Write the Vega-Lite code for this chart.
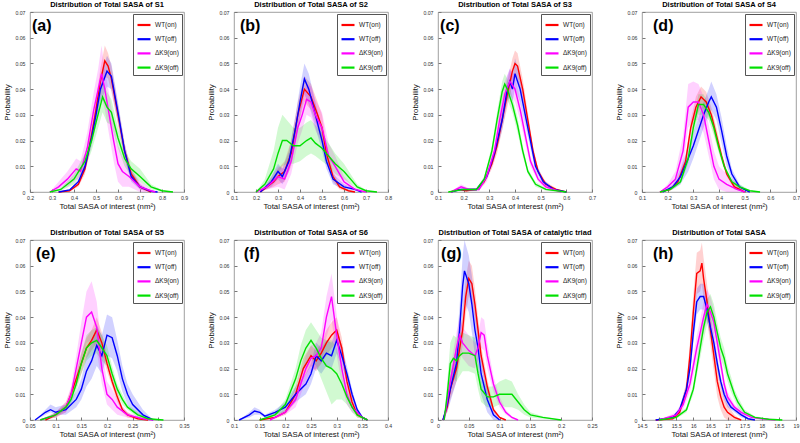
{
"$schema": "https://vega.github.io/schema/vega-lite/v6.json",
"background": "white",
"padding": {"left": 3, "top": 0, "right": 2, "bottom": 1},
"autosize": {"type": "pad"},
"bounds": "flush",
"columns": 4,
"spacing": {"row": 48, "column": 50},
"resolve": {"scale": {"x": "independent", "y": "independent", "color": "independent"}, "axis": {"x": "independent", "y": "independent"}, "legend": {"color": "independent"}},
"config": {
  "font": "Liberation Sans",
  "view": {"stroke": "#888", "strokeWidth": 0.8},
  "axis": {"grid": false, "domain": false, "tickSize": -3, "tickColor": "#777", "labelFontSize": 5.2, "labelColor": "#333", "titleFontSize": 7.8, "titleFontWeight": "normal", "titleColor": "#111", "labelFlush": false, "labelOverlap": false},
  "axisY": {"labelPadding": 8, "titlePadding": 3},
  "axisX": {"labelPadding": 6, "titlePadding": 2},
  "title": {"fontSize": 7.5, "fontWeight": "bold", "offset": 2, "color": "#000", "anchor": "middle"},
  "legend": {"orient": "top-right", "offset": 2, "title": null, "symbolType": "stroke", "symbolStrokeWidth": 2.2, "symbolSize": 169, "labelFontSize": 6.5, "labelColor": "#222", "padding": 3, "rowPadding": 1.2, "labelOffset": 3, "symbolOpacity": 1, "strokeColor": "#555", "fillColor": "#ffffff"}
},
"datasets": {
"a": [
{"s":"WT(on)","x":0.33,"y":0,"l":0,"h":0},
{"s":"WT(on)","x":0.38,"y":0.0005,"l":0.0003,"h":0.0007},
{"s":"WT(on)","x":0.42,"y":0.003,"l":0.002,"h":0.004},
{"s":"WT(on)","x":0.45,"y":0.009,"l":0.007,"h":0.011},
{"s":"WT(on)","x":0.48,"y":0.022,"l":0.019,"h":0.025},
{"s":"WT(on)","x":0.50,"y":0.032,"l":0.028,"h":0.036},
{"s":"WT(on)","x":0.52,"y":0.043,"l":0.038,"h":0.048},
{"s":"WT(on)","x":0.54,"y":0.051,"l":0.045,"h":0.057},
{"s":"WT(on)","x":0.555,"y":0.049,"l":0.044,"h":0.054},
{"s":"WT(on)","x":0.57,"y":0.044,"l":0.039,"h":0.049},
{"s":"WT(on)","x":0.60,"y":0.030,"l":0.026,"h":0.034},
{"s":"WT(on)","x":0.63,"y":0.016,"l":0.013,"h":0.019},
{"s":"WT(on)","x":0.66,"y":0.007,"l":0.005,"h":0.009},
{"s":"WT(on)","x":0.70,"y":0.002,"l":0.001,"h":0.003},
{"s":"WT(on)","x":0.75,"y":0,"l":0,"h":0},
{"s":"WT(off)","x":0.33,"y":0,"l":0,"h":0},
{"s":"WT(off)","x":0.38,"y":0.0008,"l":0.0005,"h":0.0011},
{"s":"WT(off)","x":0.42,"y":0.004,"l":0.003,"h":0.005},
{"s":"WT(off)","x":0.45,"y":0.010,"l":0.008,"h":0.012},
{"s":"WT(off)","x":0.48,"y":0.021,"l":0.018,"h":0.024},
{"s":"WT(off)","x":0.50,"y":0.030,"l":0.026,"h":0.034},
{"s":"WT(off)","x":0.52,"y":0.040,"l":0.035,"h":0.045},
{"s":"WT(off)","x":0.55,"y":0.047,"l":0.041,"h":0.053},
{"s":"WT(off)","x":0.57,"y":0.045,"l":0.040,"h":0.050},
{"s":"WT(off)","x":0.60,"y":0.031,"l":0.027,"h":0.035},
{"s":"WT(off)","x":0.63,"y":0.016,"l":0.013,"h":0.019},
{"s":"WT(off)","x":0.66,"y":0.006,"l":0.004,"h":0.008},
{"s":"WT(off)","x":0.70,"y":0.002,"l":0.001,"h":0.003},
{"s":"WT(off)","x":0.75,"y":0.0003,"l":0.0001,"h":0.0005},
{"s":"WT(off)","x":0.78,"y":0,"l":0,"h":0},
{"s":"ΔK9(on)","x":0.29,"y":0,"l":0,"h":0},
{"s":"ΔK9(on)","x":0.33,"y":0.002,"l":0.001,"h":0.004},
{"s":"ΔK9(on)","x":0.37,"y":0.005,"l":0.002,"h":0.008},
{"s":"ΔK9(on)","x":0.41,"y":0.009,"l":0.005,"h":0.013},
{"s":"ΔK9(on)","x":0.43,"y":0.008,"l":0.004,"h":0.012},
{"s":"ΔK9(on)","x":0.46,"y":0.017,"l":0.012,"h":0.023},
{"s":"ΔK9(on)","x":0.49,"y":0.032,"l":0.025,"h":0.039},
{"s":"ΔK9(on)","x":0.51,"y":0.040,"l":0.032,"h":0.048},
{"s":"ΔK9(on)","x":0.525,"y":0.046,"l":0.037,"h":0.057},
{"s":"ΔK9(on)","x":0.54,"y":0.040,"l":0.032,"h":0.048},
{"s":"ΔK9(on)","x":0.56,"y":0.030,"l":0.022,"h":0.038},
{"s":"ΔK9(on)","x":0.58,"y":0.020,"l":0.012,"h":0.028},
{"s":"ΔK9(on)","x":0.60,"y":0.011,"l":0.004,"h":0.018},
{"s":"ΔK9(on)","x":0.62,"y":0.008,"l":0.002,"h":0.014},
{"s":"ΔK9(on)","x":0.65,"y":0.006,"l":0.002,"h":0.010},
{"s":"ΔK9(on)","x":0.70,"y":0.002,"l":0,"h":0.004},
{"s":"ΔK9(on)","x":0.75,"y":0.0005,"l":0,"h":0.001},
{"s":"ΔK9(on)","x":0.77,"y":0,"l":0,"h":0},
{"s":"ΔK9(off)","x":0.29,"y":0,"l":0,"h":0},
{"s":"ΔK9(off)","x":0.34,"y":0.001,"l":0.0005,"h":0.0015},
{"s":"ΔK9(off)","x":0.40,"y":0.005,"l":0.003,"h":0.007},
{"s":"ΔK9(off)","x":0.45,"y":0.012,"l":0.009,"h":0.015},
{"s":"ΔK9(off)","x":0.48,"y":0.020,"l":0.016,"h":0.024},
{"s":"ΔK9(off)","x":0.50,"y":0.027,"l":0.022,"h":0.032},
{"s":"ΔK9(off)","x":0.53,"y":0.037,"l":0.031,"h":0.043},
{"s":"ΔK9(off)","x":0.55,"y":0.033,"l":0.027,"h":0.039},
{"s":"ΔK9(off)","x":0.57,"y":0.031,"l":0.026,"h":0.036},
{"s":"ΔK9(off)","x":0.60,"y":0.021,"l":0.017,"h":0.025},
{"s":"ΔK9(off)","x":0.63,"y":0.013,"l":0.010,"h":0.016},
{"s":"ΔK9(off)","x":0.66,"y":0.009,"l":0.006,"h":0.012},
{"s":"ΔK9(off)","x":0.70,"y":0.006,"l":0.004,"h":0.009},
{"s":"ΔK9(off)","x":0.75,"y":0.002,"l":0.001,"h":0.003},
{"s":"ΔK9(off)","x":0.80,"y":0.0005,"l":0.0002,"h":0.0008},
{"s":"ΔK9(off)","x":0.85,"y":0,"l":0,"h":0}
],
"b": [
{"s":"WT(on)","x":0.22,"y":0,"l":0,"h":0},
{"s":"WT(on)","x":0.28,"y":0.004,"l":0.002,"h":0.006},
{"s":"WT(on)","x":0.30,"y":0.006,"l":0.003,"h":0.009},
{"s":"WT(on)","x":0.33,"y":0.008,"l":0.004,"h":0.012},
{"s":"WT(on)","x":0.36,"y":0.015,"l":0.010,"h":0.020},
{"s":"WT(on)","x":0.39,"y":0.030,"l":0.025,"h":0.035},
{"s":"WT(on)","x":0.42,"y":0.040,"l":0.035,"h":0.045},
{"s":"WT(on)","x":0.45,"y":0.037,"l":0.032,"h":0.042},
{"s":"WT(on)","x":0.48,"y":0.030,"l":0.025,"h":0.035},
{"s":"WT(on)","x":0.50,"y":0.025,"l":0.020,"h":0.030},
{"s":"WT(on)","x":0.52,"y":0.015,"l":0.011,"h":0.019},
{"s":"WT(on)","x":0.55,"y":0.006,"l":0.004,"h":0.008},
{"s":"WT(on)","x":0.58,"y":0.002,"l":0.001,"h":0.003},
{"s":"WT(on)","x":0.62,"y":0.0005,"l":0.0002,"h":0.0008},
{"s":"WT(on)","x":0.65,"y":0,"l":0,"h":0},
{"s":"WT(off)","x":0.22,"y":0,"l":0,"h":0},
{"s":"WT(off)","x":0.27,"y":0.004,"l":0.002,"h":0.006},
{"s":"WT(off)","x":0.30,"y":0.008,"l":0.005,"h":0.011},
{"s":"WT(off)","x":0.32,"y":0.006,"l":0.003,"h":0.009},
{"s":"WT(off)","x":0.35,"y":0.012,"l":0.008,"h":0.016},
{"s":"WT(off)","x":0.38,"y":0.025,"l":0.020,"h":0.030},
{"s":"WT(off)","x":0.40,"y":0.035,"l":0.029,"h":0.041},
{"s":"WT(off)","x":0.42,"y":0.044,"l":0.038,"h":0.050},
{"s":"WT(off)","x":0.44,"y":0.040,"l":0.034,"h":0.046},
{"s":"WT(off)","x":0.47,"y":0.030,"l":0.025,"h":0.035},
{"s":"WT(off)","x":0.50,"y":0.020,"l":0.016,"h":0.024},
{"s":"WT(off)","x":0.52,"y":0.012,"l":0.009,"h":0.015},
{"s":"WT(off)","x":0.55,"y":0.005,"l":0.003,"h":0.007},
{"s":"WT(off)","x":0.60,"y":0.002,"l":0.001,"h":0.003},
{"s":"WT(off)","x":0.65,"y":0.001,"l":0.0005,"h":0.0015},
{"s":"WT(off)","x":0.68,"y":0,"l":0,"h":0},
{"s":"ΔK9(on)","x":0.20,"y":0,"l":0,"h":0},
{"s":"ΔK9(on)","x":0.25,"y":0.002,"l":0.001,"h":0.003},
{"s":"ΔK9(on)","x":0.30,"y":0.006,"l":0.002,"h":0.010},
{"s":"ΔK9(on)","x":0.33,"y":0.005,"l":0.001,"h":0.009},
{"s":"ΔK9(on)","x":0.36,"y":0.012,"l":0.007,"h":0.017},
{"s":"ΔK9(on)","x":0.39,"y":0.025,"l":0.019,"h":0.031},
{"s":"ΔK9(on)","x":0.41,"y":0.030,"l":0.024,"h":0.036},
{"s":"ΔK9(on)","x":0.43,"y":0.036,"l":0.030,"h":0.042},
{"s":"ΔK9(on)","x":0.45,"y":0.035,"l":0.029,"h":0.041},
{"s":"ΔK9(on)","x":0.47,"y":0.030,"l":0.024,"h":0.036},
{"s":"ΔK9(on)","x":0.50,"y":0.025,"l":0.019,"h":0.031},
{"s":"ΔK9(on)","x":0.53,"y":0.014,"l":0.009,"h":0.019},
{"s":"ΔK9(on)","x":0.56,"y":0.010,"l":0.006,"h":0.014},
{"s":"ΔK9(on)","x":0.60,"y":0.004,"l":0.002,"h":0.006},
{"s":"ΔK9(on)","x":0.65,"y":0.001,"l":0.0005,"h":0.0015},
{"s":"ΔK9(on)","x":0.70,"y":0,"l":0,"h":0},
{"s":"ΔK9(off)","x":0.20,"y":0,"l":0,"h":0},
{"s":"ΔK9(off)","x":0.24,"y":0.003,"l":0.001,"h":0.005},
{"s":"ΔK9(off)","x":0.28,"y":0.009,"l":0.004,"h":0.016},
{"s":"ΔK9(off)","x":0.30,"y":0.015,"l":0.007,"h":0.025},
{"s":"ΔK9(off)","x":0.32,"y":0.020,"l":0.010,"h":0.030},
{"s":"ΔK9(off)","x":0.34,"y":0.020,"l":0.011,"h":0.028},
{"s":"ΔK9(off)","x":0.37,"y":0.018,"l":0.011,"h":0.025},
{"s":"ΔK9(off)","x":0.40,"y":0.018,"l":0.012,"h":0.025},
{"s":"ΔK9(off)","x":0.43,"y":0.020,"l":0.014,"h":0.027},
{"s":"ΔK9(off)","x":0.45,"y":0.021,"l":0.015,"h":0.028},
{"s":"ΔK9(off)","x":0.47,"y":0.019,"l":0.014,"h":0.026},
{"s":"ΔK9(off)","x":0.50,"y":0.017,"l":0.012,"h":0.023},
{"s":"ΔK9(off)","x":0.53,"y":0.014,"l":0.010,"h":0.019},
{"s":"ΔK9(off)","x":0.56,"y":0.011,"l":0.007,"h":0.015},
{"s":"ΔK9(off)","x":0.60,"y":0.008,"l":0.005,"h":0.011},
{"s":"ΔK9(off)","x":0.63,"y":0.005,"l":0.003,"h":0.007},
{"s":"ΔK9(off)","x":0.66,"y":0.002,"l":0.001,"h":0.003},
{"s":"ΔK9(off)","x":0.70,"y":0.0005,"l":0.0002,"h":0.0008},
{"s":"ΔK9(off)","x":0.75,"y":0,"l":0,"h":0}
],
"c": [
{"s":"WT(on)","x":0.15,"y":0,"l":0,"h":0},
{"s":"WT(on)","x":0.18,"y":0.001,"l":0.0005,"h":0.0015},
{"s":"WT(on)","x":0.21,"y":0.0005,"l":0.0002,"h":0.0008},
{"s":"WT(on)","x":0.25,"y":0.001,"l":0.0005,"h":0.0015},
{"s":"WT(on)","x":0.28,"y":0.004,"l":0.003,"h":0.005},
{"s":"WT(on)","x":0.31,"y":0.011,"l":0.009,"h":0.013},
{"s":"WT(on)","x":0.33,"y":0.018,"l":0.015,"h":0.021},
{"s":"WT(on)","x":0.35,"y":0.028,"l":0.024,"h":0.032},
{"s":"WT(on)","x":0.37,"y":0.038,"l":0.033,"h":0.043},
{"s":"WT(on)","x":0.39,"y":0.047,"l":0.042,"h":0.052},
{"s":"WT(on)","x":0.40,"y":0.050,"l":0.045,"h":0.055},
{"s":"WT(on)","x":0.41,"y":0.049,"l":0.044,"h":0.054},
{"s":"WT(on)","x":0.43,"y":0.040,"l":0.036,"h":0.044},
{"s":"WT(on)","x":0.45,"y":0.028,"l":0.025,"h":0.031},
{"s":"WT(on)","x":0.47,"y":0.016,"l":0.014,"h":0.018},
{"s":"WT(on)","x":0.49,"y":0.008,"l":0.007,"h":0.009},
{"s":"WT(on)","x":0.52,"y":0.003,"l":0.002,"h":0.004},
{"s":"WT(on)","x":0.56,"y":0.001,"l":0.0005,"h":0.0015},
{"s":"WT(on)","x":0.60,"y":0,"l":0,"h":0},
{"s":"WT(off)","x":0.15,"y":0,"l":0,"h":0},
{"s":"WT(off)","x":0.19,"y":0.001,"l":0.0005,"h":0.0015},
{"s":"WT(off)","x":0.25,"y":0.001,"l":0.0005,"h":0.0015},
{"s":"WT(off)","x":0.29,"y":0.006,"l":0.005,"h":0.007},
{"s":"WT(off)","x":0.32,"y":0.015,"l":0.013,"h":0.017},
{"s":"WT(off)","x":0.35,"y":0.028,"l":0.024,"h":0.032},
{"s":"WT(off)","x":0.37,"y":0.040,"l":0.035,"h":0.045},
{"s":"WT(off)","x":0.38,"y":0.043,"l":0.038,"h":0.048},
{"s":"WT(off)","x":0.39,"y":0.040,"l":0.035,"h":0.045},
{"s":"WT(off)","x":0.40,"y":0.046,"l":0.040,"h":0.052},
{"s":"WT(off)","x":0.42,"y":0.040,"l":0.035,"h":0.045},
{"s":"WT(off)","x":0.44,"y":0.030,"l":0.026,"h":0.034},
{"s":"WT(off)","x":0.46,"y":0.020,"l":0.017,"h":0.023},
{"s":"WT(off)","x":0.48,"y":0.010,"l":0.008,"h":0.012},
{"s":"WT(off)","x":0.51,"y":0.004,"l":0.003,"h":0.005},
{"s":"WT(off)","x":0.55,"y":0.001,"l":0.0005,"h":0.0015},
{"s":"WT(off)","x":0.60,"y":0,"l":0,"h":0},
{"s":"ΔK9(on)","x":0.15,"y":0,"l":0,"h":0},
{"s":"ΔK9(on)","x":0.19,"y":0.002,"l":0.001,"h":0.003},
{"s":"ΔK9(on)","x":0.22,"y":0.001,"l":0.0005,"h":0.0015},
{"s":"ΔK9(on)","x":0.26,"y":0.001,"l":0.0005,"h":0.0015},
{"s":"ΔK9(on)","x":0.29,"y":0.006,"l":0.004,"h":0.008},
{"s":"ΔK9(on)","x":0.32,"y":0.016,"l":0.013,"h":0.019},
{"s":"ΔK9(on)","x":0.34,"y":0.028,"l":0.024,"h":0.032},
{"s":"ΔK9(on)","x":0.36,"y":0.038,"l":0.033,"h":0.043},
{"s":"ΔK9(on)","x":0.38,"y":0.043,"l":0.038,"h":0.048},
{"s":"ΔK9(on)","x":0.40,"y":0.040,"l":0.035,"h":0.045},
{"s":"ΔK9(on)","x":0.42,"y":0.032,"l":0.028,"h":0.036},
{"s":"ΔK9(on)","x":0.44,"y":0.022,"l":0.019,"h":0.025},
{"s":"ΔK9(on)","x":0.46,"y":0.012,"l":0.010,"h":0.014},
{"s":"ΔK9(on)","x":0.49,"y":0.005,"l":0.004,"h":0.006},
{"s":"ΔK9(on)","x":0.52,"y":0.002,"l":0.001,"h":0.003},
{"s":"ΔK9(on)","x":0.55,"y":0.001,"l":0.0005,"h":0.0015},
{"s":"ΔK9(on)","x":0.58,"y":0,"l":0,"h":0},
{"s":"ΔK9(off)","x":0.14,"y":0,"l":0,"h":0},
{"s":"ΔK9(off)","x":0.20,"y":0.001,"l":0.0005,"h":0.0015},
{"s":"ΔK9(off)","x":0.25,"y":0.001,"l":0.0005,"h":0.0015},
{"s":"ΔK9(off)","x":0.28,"y":0.005,"l":0.004,"h":0.006},
{"s":"ΔK9(off)","x":0.31,"y":0.016,"l":0.014,"h":0.018},
{"s":"ΔK9(off)","x":0.33,"y":0.028,"l":0.025,"h":0.031},
{"s":"ΔK9(off)","x":0.35,"y":0.039,"l":0.035,"h":0.043},
{"s":"ΔK9(off)","x":0.36,"y":0.042,"l":0.038,"h":0.046},
{"s":"ΔK9(off)","x":0.37,"y":0.040,"l":0.036,"h":0.044},
{"s":"ΔK9(off)","x":0.39,"y":0.034,"l":0.031,"h":0.037},
{"s":"ΔK9(off)","x":0.41,"y":0.026,"l":0.023,"h":0.029},
{"s":"ΔK9(off)","x":0.43,"y":0.016,"l":0.014,"h":0.018},
{"s":"ΔK9(off)","x":0.45,"y":0.008,"l":0.007,"h":0.009},
{"s":"ΔK9(off)","x":0.48,"y":0.003,"l":0.002,"h":0.004},
{"s":"ΔK9(off)","x":0.52,"y":0.001,"l":0.0005,"h":0.0015},
{"s":"ΔK9(off)","x":0.60,"y":0,"l":0,"h":0}
],
"d": [
{"s":"WT(on)","x":0.17,"y":0,"l":0,"h":0},
{"s":"WT(on)","x":0.21,"y":0.001,"l":0.0005,"h":0.0015},
{"s":"WT(on)","x":0.24,"y":0.004,"l":0.003,"h":0.005},
{"s":"WT(on)","x":0.27,"y":0.012,"l":0.010,"h":0.014},
{"s":"WT(on)","x":0.29,"y":0.025,"l":0.022,"h":0.028},
{"s":"WT(on)","x":0.31,"y":0.033,"l":0.029,"h":0.037},
{"s":"WT(on)","x":0.33,"y":0.037,"l":0.033,"h":0.041},
{"s":"WT(on)","x":0.35,"y":0.035,"l":0.031,"h":0.039},
{"s":"WT(on)","x":0.37,"y":0.030,"l":0.027,"h":0.033},
{"s":"WT(on)","x":0.39,"y":0.022,"l":0.019,"h":0.025},
{"s":"WT(on)","x":0.41,"y":0.014,"l":0.012,"h":0.016},
{"s":"WT(on)","x":0.43,"y":0.007,"l":0.006,"h":0.008},
{"s":"WT(on)","x":0.46,"y":0.002,"l":0.001,"h":0.003},
{"s":"WT(on)","x":0.50,"y":0,"l":0,"h":0},
{"s":"WT(off)","x":0.18,"y":0,"l":0,"h":0},
{"s":"WT(off)","x":0.22,"y":0.002,"l":0.001,"h":0.003},
{"s":"WT(off)","x":0.25,"y":0.006,"l":0.003,"h":0.009},
{"s":"WT(off)","x":0.28,"y":0.013,"l":0.008,"h":0.018},
{"s":"WT(off)","x":0.30,"y":0.018,"l":0.013,"h":0.023},
{"s":"WT(off)","x":0.32,"y":0.024,"l":0.019,"h":0.029},
{"s":"WT(off)","x":0.34,"y":0.030,"l":0.025,"h":0.035},
{"s":"WT(off)","x":0.36,"y":0.035,"l":0.030,"h":0.040},
{"s":"WT(off)","x":0.37,"y":0.037,"l":0.032,"h":0.043},
{"s":"WT(off)","x":0.39,"y":0.033,"l":0.028,"h":0.038},
{"s":"WT(off)","x":0.41,"y":0.024,"l":0.019,"h":0.029},
{"s":"WT(off)","x":0.43,"y":0.014,"l":0.010,"h":0.018},
{"s":"WT(off)","x":0.45,"y":0.007,"l":0.005,"h":0.009},
{"s":"WT(off)","x":0.48,"y":0.002,"l":0.001,"h":0.003},
{"s":"WT(off)","x":0.52,"y":0,"l":0,"h":0},
{"s":"ΔK9(on)","x":0.17,"y":0,"l":0,"h":0},
{"s":"ΔK9(on)","x":0.20,"y":0.002,"l":0.001,"h":0.003},
{"s":"ΔK9(on)","x":0.23,"y":0.005,"l":0.002,"h":0.008},
{"s":"ΔK9(on)","x":0.26,"y":0.016,"l":0.010,"h":0.022},
{"s":"ΔK9(on)","x":0.28,"y":0.033,"l":0.025,"h":0.042},
{"s":"ΔK9(on)","x":0.30,"y":0.035,"l":0.028,"h":0.043},
{"s":"ΔK9(on)","x":0.32,"y":0.035,"l":0.028,"h":0.042},
{"s":"ΔK9(on)","x":0.34,"y":0.030,"l":0.023,"h":0.037},
{"s":"ΔK9(on)","x":0.36,"y":0.020,"l":0.014,"h":0.026},
{"s":"ΔK9(on)","x":0.38,"y":0.010,"l":0.005,"h":0.016},
{"s":"ΔK9(on)","x":0.40,"y":0.005,"l":0.001,"h":0.010},
{"s":"ΔK9(on)","x":0.43,"y":0.003,"l":0,"h":0.007},
{"s":"ΔK9(on)","x":0.47,"y":0.001,"l":0,"h":0.003},
{"s":"ΔK9(on)","x":0.50,"y":0,"l":0,"h":0},
{"s":"ΔK9(off)","x":0.17,"y":0,"l":0,"h":0},
{"s":"ΔK9(off)","x":0.21,"y":0.001,"l":0.0005,"h":0.0015},
{"s":"ΔK9(off)","x":0.25,"y":0.004,"l":0.003,"h":0.005},
{"s":"ΔK9(off)","x":0.28,"y":0.013,"l":0.011,"h":0.015},
{"s":"ΔK9(off)","x":0.30,"y":0.025,"l":0.022,"h":0.028},
{"s":"ΔK9(off)","x":0.32,"y":0.034,"l":0.030,"h":0.038},
{"s":"ΔK9(off)","x":0.34,"y":0.034,"l":0.030,"h":0.038},
{"s":"ΔK9(off)","x":0.36,"y":0.031,"l":0.028,"h":0.034},
{"s":"ΔK9(off)","x":0.38,"y":0.025,"l":0.022,"h":0.028},
{"s":"ΔK9(off)","x":0.40,"y":0.017,"l":0.015,"h":0.019},
{"s":"ΔK9(off)","x":0.42,"y":0.010,"l":0.009,"h":0.011},
{"s":"ΔK9(off)","x":0.45,"y":0.004,"l":0.003,"h":0.005},
{"s":"ΔK9(off)","x":0.48,"y":0.002,"l":0.001,"h":0.003},
{"s":"ΔK9(off)","x":0.52,"y":0.0005,"l":0.0002,"h":0.0008},
{"s":"ΔK9(off)","x":0.56,"y":0,"l":0,"h":0}
],
"e": [
{"s":"WT(on)","x":0.08,"y":0,"l":0,"h":0},
{"s":"WT(on)","x":0.10,"y":0.002,"l":0.001,"h":0.003},
{"s":"WT(on)","x":0.12,"y":0.005,"l":0.003,"h":0.007},
{"s":"WT(on)","x":0.13,"y":0.010,"l":0.008,"h":0.012},
{"s":"WT(on)","x":0.14,"y":0.016,"l":0.013,"h":0.019},
{"s":"WT(on)","x":0.15,"y":0.022,"l":0.018,"h":0.026},
{"s":"WT(on)","x":0.16,"y":0.028,"l":0.024,"h":0.032},
{"s":"WT(on)","x":0.17,"y":0.031,"l":0.027,"h":0.035},
{"s":"WT(on)","x":0.18,"y":0.035,"l":0.030,"h":0.040},
{"s":"WT(on)","x":0.19,"y":0.030,"l":0.026,"h":0.034},
{"s":"WT(on)","x":0.20,"y":0.022,"l":0.019,"h":0.025},
{"s":"WT(on)","x":0.21,"y":0.015,"l":0.013,"h":0.017},
{"s":"WT(on)","x":0.22,"y":0.009,"l":0.007,"h":0.011},
{"s":"WT(on)","x":0.23,"y":0.004,"l":0.003,"h":0.005},
{"s":"WT(on)","x":0.24,"y":0.002,"l":0.001,"h":0.003},
{"s":"WT(on)","x":0.26,"y":0.0005,"l":0.0002,"h":0.0008},
{"s":"WT(on)","x":0.28,"y":0,"l":0,"h":0},
{"s":"WT(off)","x":0.06,"y":0,"l":0,"h":0},
{"s":"WT(off)","x":0.08,"y":0.003,"l":0.002,"h":0.004},
{"s":"WT(off)","x":0.09,"y":0.004,"l":0.003,"h":0.006},
{"s":"WT(off)","x":0.10,"y":0.003,"l":0.002,"h":0.005},
{"s":"WT(off)","x":0.12,"y":0.004,"l":0.002,"h":0.006},
{"s":"WT(off)","x":0.14,"y":0.008,"l":0.005,"h":0.011},
{"s":"WT(off)","x":0.15,"y":0.012,"l":0.008,"h":0.016},
{"s":"WT(off)","x":0.16,"y":0.019,"l":0.013,"h":0.025},
{"s":"WT(off)","x":0.17,"y":0.023,"l":0.016,"h":0.030},
{"s":"WT(off)","x":0.18,"y":0.029,"l":0.021,"h":0.037},
{"s":"WT(off)","x":0.19,"y":0.025,"l":0.018,"h":0.033},
{"s":"WT(off)","x":0.20,"y":0.033,"l":0.025,"h":0.041},
{"s":"WT(off)","x":0.21,"y":0.032,"l":0.024,"h":0.040},
{"s":"WT(off)","x":0.22,"y":0.025,"l":0.019,"h":0.031},
{"s":"WT(off)","x":0.23,"y":0.016,"l":0.011,"h":0.021},
{"s":"WT(off)","x":0.24,"y":0.010,"l":0.006,"h":0.014},
{"s":"WT(off)","x":0.25,"y":0.006,"l":0.003,"h":0.010},
{"s":"WT(off)","x":0.27,"y":0.002,"l":0.001,"h":0.004},
{"s":"WT(off)","x":0.29,"y":0,"l":0,"h":0},
{"s":"ΔK9(on)","x":0.07,"y":0,"l":0,"h":0},
{"s":"ΔK9(on)","x":0.10,"y":0.002,"l":0.001,"h":0.003},
{"s":"ΔK9(on)","x":0.12,"y":0.005,"l":0.003,"h":0.007},
{"s":"ΔK9(on)","x":0.13,"y":0.010,"l":0.007,"h":0.013},
{"s":"ΔK9(on)","x":0.14,"y":0.020,"l":0.015,"h":0.025},
{"s":"ΔK9(on)","x":0.15,"y":0.030,"l":0.022,"h":0.038},
{"s":"ΔK9(on)","x":0.16,"y":0.040,"l":0.030,"h":0.050},
{"s":"ΔK9(on)","x":0.17,"y":0.042,"l":0.031,"h":0.054},
{"s":"ΔK9(on)","x":0.18,"y":0.036,"l":0.027,"h":0.046},
{"s":"ΔK9(on)","x":0.19,"y":0.020,"l":0.014,"h":0.027},
{"s":"ΔK9(on)","x":0.20,"y":0.010,"l":0.006,"h":0.015},
{"s":"ΔK9(on)","x":0.21,"y":0.008,"l":0.004,"h":0.012},
{"s":"ΔK9(on)","x":0.22,"y":0.005,"l":0.002,"h":0.008},
{"s":"ΔK9(on)","x":0.24,"y":0.002,"l":0.001,"h":0.003},
{"s":"ΔK9(on)","x":0.27,"y":0.0005,"l":0.0002,"h":0.0008},
{"s":"ΔK9(on)","x":0.29,"y":0,"l":0,"h":0},
{"s":"ΔK9(off)","x":0.07,"y":0,"l":0,"h":0},
{"s":"ΔK9(off)","x":0.10,"y":0.002,"l":0.001,"h":0.003},
{"s":"ΔK9(off)","x":0.12,"y":0.005,"l":0.004,"h":0.006},
{"s":"ΔK9(off)","x":0.13,"y":0.008,"l":0.006,"h":0.010},
{"s":"ΔK9(off)","x":0.14,"y":0.014,"l":0.011,"h":0.017},
{"s":"ΔK9(off)","x":0.15,"y":0.022,"l":0.018,"h":0.026},
{"s":"ΔK9(off)","x":0.16,"y":0.028,"l":0.023,"h":0.033},
{"s":"ΔK9(off)","x":0.17,"y":0.030,"l":0.025,"h":0.035},
{"s":"ΔK9(off)","x":0.18,"y":0.031,"l":0.026,"h":0.036},
{"s":"ΔK9(off)","x":0.19,"y":0.028,"l":0.023,"h":0.033},
{"s":"ΔK9(off)","x":0.20,"y":0.025,"l":0.021,"h":0.029},
{"s":"ΔK9(off)","x":0.21,"y":0.018,"l":0.015,"h":0.021},
{"s":"ΔK9(off)","x":0.22,"y":0.012,"l":0.010,"h":0.014},
{"s":"ΔK9(off)","x":0.23,"y":0.008,"l":0.006,"h":0.010},
{"s":"ΔK9(off)","x":0.24,"y":0.005,"l":0.004,"h":0.006},
{"s":"ΔK9(off)","x":0.26,"y":0.002,"l":0.001,"h":0.003},
{"s":"ΔK9(off)","x":0.28,"y":0.0005,"l":0.0002,"h":0.0008},
{"s":"ΔK9(off)","x":0.31,"y":0,"l":0,"h":0}
],
"f": [
{"s":"WT(on)","x":0.15,"y":0,"l":0,"h":0},
{"s":"WT(on)","x":0.18,"y":0.001,"l":0.0005,"h":0.0015},
{"s":"WT(on)","x":0.20,"y":0.003,"l":0.002,"h":0.004},
{"s":"WT(on)","x":0.22,"y":0.010,"l":0.007,"h":0.013},
{"s":"WT(on)","x":0.235,"y":0.020,"l":0.016,"h":0.024},
{"s":"WT(on)","x":0.25,"y":0.025,"l":0.021,"h":0.029},
{"s":"WT(on)","x":0.26,"y":0.023,"l":0.019,"h":0.027},
{"s":"WT(on)","x":0.27,"y":0.026,"l":0.022,"h":0.030},
{"s":"WT(on)","x":0.28,"y":0.030,"l":0.025,"h":0.035},
{"s":"WT(on)","x":0.29,"y":0.033,"l":0.028,"h":0.038},
{"s":"WT(on)","x":0.30,"y":0.035,"l":0.030,"h":0.040},
{"s":"WT(on)","x":0.31,"y":0.028,"l":0.024,"h":0.032},
{"s":"WT(on)","x":0.32,"y":0.015,"l":0.012,"h":0.018},
{"s":"WT(on)","x":0.33,"y":0.007,"l":0.005,"h":0.009},
{"s":"WT(on)","x":0.34,"y":0.002,"l":0.001,"h":0.003},
{"s":"WT(on)","x":0.36,"y":0,"l":0,"h":0},
{"s":"WT(off)","x":0.11,"y":0,"l":0,"h":0},
{"s":"WT(off)","x":0.13,"y":0.002,"l":0.001,"h":0.003},
{"s":"WT(off)","x":0.14,"y":0.0035,"l":0.002,"h":0.005},
{"s":"WT(off)","x":0.15,"y":0.003,"l":0.002,"h":0.004},
{"s":"WT(off)","x":0.16,"y":0.0015,"l":0.001,"h":0.002},
{"s":"WT(off)","x":0.18,"y":0.003,"l":0.002,"h":0.004},
{"s":"WT(off)","x":0.20,"y":0.005,"l":0.003,"h":0.007},
{"s":"WT(off)","x":0.22,"y":0.010,"l":0.007,"h":0.013},
{"s":"WT(off)","x":0.24,"y":0.014,"l":0.010,"h":0.018},
{"s":"WT(off)","x":0.25,"y":0.018,"l":0.014,"h":0.022},
{"s":"WT(off)","x":0.26,"y":0.025,"l":0.020,"h":0.030},
{"s":"WT(off)","x":0.27,"y":0.023,"l":0.018,"h":0.028},
{"s":"WT(off)","x":0.28,"y":0.026,"l":0.021,"h":0.031},
{"s":"WT(off)","x":0.29,"y":0.025,"l":0.020,"h":0.030},
{"s":"WT(off)","x":0.30,"y":0.031,"l":0.026,"h":0.036},
{"s":"WT(off)","x":0.31,"y":0.025,"l":0.021,"h":0.029},
{"s":"WT(off)","x":0.32,"y":0.018,"l":0.015,"h":0.021},
{"s":"WT(off)","x":0.33,"y":0.010,"l":0.008,"h":0.012},
{"s":"WT(off)","x":0.34,"y":0.004,"l":0.003,"h":0.005},
{"s":"WT(off)","x":0.35,"y":0.001,"l":0.0005,"h":0.0015},
{"s":"WT(off)","x":0.36,"y":0,"l":0,"h":0},
{"s":"ΔK9(on)","x":0.17,"y":0,"l":0,"h":0},
{"s":"ΔK9(on)","x":0.20,"y":0.003,"l":0.002,"h":0.004},
{"s":"ΔK9(on)","x":0.22,"y":0.008,"l":0.005,"h":0.011},
{"s":"ΔK9(on)","x":0.24,"y":0.020,"l":0.015,"h":0.025},
{"s":"ΔK9(on)","x":0.25,"y":0.024,"l":0.019,"h":0.029},
{"s":"ΔK9(on)","x":0.26,"y":0.025,"l":0.020,"h":0.030},
{"s":"ΔK9(on)","x":0.27,"y":0.028,"l":0.022,"h":0.034},
{"s":"ΔK9(on)","x":0.28,"y":0.040,"l":0.032,"h":0.048},
{"s":"ΔK9(on)","x":0.29,"y":0.048,"l":0.039,"h":0.057},
{"s":"ΔK9(on)","x":0.30,"y":0.033,"l":0.025,"h":0.041},
{"s":"ΔK9(on)","x":0.31,"y":0.020,"l":0.014,"h":0.026},
{"s":"ΔK9(on)","x":0.32,"y":0.010,"l":0.006,"h":0.014},
{"s":"ΔK9(on)","x":0.33,"y":0.005,"l":0.003,"h":0.007},
{"s":"ΔK9(on)","x":0.35,"y":0.001,"l":0.0005,"h":0.0015},
{"s":"ΔK9(on)","x":0.36,"y":0,"l":0,"h":0},
{"s":"ΔK9(off)","x":0.15,"y":0,"l":0,"h":0},
{"s":"ΔK9(off)","x":0.18,"y":0.002,"l":0.001,"h":0.003},
{"s":"ΔK9(off)","x":0.20,"y":0.006,"l":0.004,"h":0.008},
{"s":"ΔK9(off)","x":0.22,"y":0.016,"l":0.012,"h":0.020},
{"s":"ΔK9(off)","x":0.23,"y":0.023,"l":0.018,"h":0.029},
{"s":"ΔK9(off)","x":0.24,"y":0.028,"l":0.021,"h":0.035},
{"s":"ΔK9(off)","x":0.25,"y":0.031,"l":0.024,"h":0.038},
{"s":"ΔK9(off)","x":0.26,"y":0.028,"l":0.021,"h":0.035},
{"s":"ΔK9(off)","x":0.27,"y":0.024,"l":0.016,"h":0.032},
{"s":"ΔK9(off)","x":0.28,"y":0.021,"l":0.011,"h":0.031},
{"s":"ΔK9(off)","x":0.29,"y":0.020,"l":0.006,"h":0.031},
{"s":"ΔK9(off)","x":0.30,"y":0.018,"l":0.008,"h":0.028},
{"s":"ΔK9(off)","x":0.31,"y":0.014,"l":0.008,"h":0.020},
{"s":"ΔK9(off)","x":0.32,"y":0.009,"l":0.006,"h":0.012},
{"s":"ΔK9(off)","x":0.33,"y":0.005,"l":0.003,"h":0.007},
{"s":"ΔK9(off)","x":0.34,"y":0.002,"l":0.001,"h":0.003},
{"s":"ΔK9(off)","x":0.36,"y":0,"l":0,"h":0}
],
"g": [
{"s":"WT(on)","x":0.008,"y":0,"l":0,"h":0},
{"s":"WT(on)","x":0.015,"y":0.005,"l":0.003,"h":0.007},
{"s":"WT(on)","x":0.02,"y":0.012,"l":0.008,"h":0.016},
{"s":"WT(on)","x":0.03,"y":0.020,"l":0.015,"h":0.025},
{"s":"WT(on)","x":0.04,"y":0.035,"l":0.029,"h":0.041},
{"s":"WT(on)","x":0.045,"y":0.048,"l":0.041,"h":0.055},
{"s":"WT(on)","x":0.05,"y":0.055,"l":0.048,"h":0.062},
{"s":"WT(on)","x":0.055,"y":0.053,"l":0.046,"h":0.060},
{"s":"WT(on)","x":0.06,"y":0.045,"l":0.039,"h":0.051},
{"s":"WT(on)","x":0.065,"y":0.035,"l":0.030,"h":0.040},
{"s":"WT(on)","x":0.07,"y":0.025,"l":0.021,"h":0.029},
{"s":"WT(on)","x":0.08,"y":0.013,"l":0.010,"h":0.016},
{"s":"WT(on)","x":0.09,"y":0.004,"l":0.003,"h":0.005},
{"s":"WT(on)","x":0.10,"y":0.001,"l":0.0005,"h":0.0015},
{"s":"WT(on)","x":0.11,"y":0,"l":0,"h":0},
{"s":"WT(off)","x":0.008,"y":0,"l":0,"h":0},
{"s":"WT(off)","x":0.015,"y":0.006,"l":0.003,"h":0.009},
{"s":"WT(off)","x":0.02,"y":0.012,"l":0.007,"h":0.017},
{"s":"WT(off)","x":0.03,"y":0.022,"l":0.015,"h":0.029},
{"s":"WT(off)","x":0.035,"y":0.035,"l":0.026,"h":0.044},
{"s":"WT(off)","x":0.04,"y":0.052,"l":0.040,"h":0.064},
{"s":"WT(off)","x":0.043,"y":0.058,"l":0.046,"h":0.070},
{"s":"WT(off)","x":0.05,"y":0.053,"l":0.042,"h":0.064},
{"s":"WT(off)","x":0.055,"y":0.045,"l":0.034,"h":0.056},
{"s":"WT(off)","x":0.06,"y":0.035,"l":0.025,"h":0.045},
{"s":"WT(off)","x":0.065,"y":0.028,"l":0.018,"h":0.038},
{"s":"WT(off)","x":0.07,"y":0.018,"l":0.010,"h":0.026},
{"s":"WT(off)","x":0.08,"y":0.008,"l":0.003,"h":0.013},
{"s":"WT(off)","x":0.09,"y":0.002,"l":0,"h":0.004},
{"s":"WT(off)","x":0.10,"y":0,"l":0,"h":0},
{"s":"ΔK9(on)","x":0.01,"y":0,"l":0,"h":0},
{"s":"ΔK9(on)","x":0.02,"y":0.015,"l":0.010,"h":0.020},
{"s":"ΔK9(on)","x":0.03,"y":0.028,"l":0.022,"h":0.034},
{"s":"ΔK9(on)","x":0.035,"y":0.033,"l":0.026,"h":0.040},
{"s":"ΔK9(on)","x":0.04,"y":0.030,"l":0.024,"h":0.036},
{"s":"ΔK9(on)","x":0.05,"y":0.027,"l":0.021,"h":0.033},
{"s":"ΔK9(on)","x":0.06,"y":0.025,"l":0.020,"h":0.030},
{"s":"ΔK9(on)","x":0.065,"y":0.028,"l":0.023,"h":0.033},
{"s":"ΔK9(on)","x":0.07,"y":0.034,"l":0.028,"h":0.040},
{"s":"ΔK9(on)","x":0.075,"y":0.033,"l":0.027,"h":0.039},
{"s":"ΔK9(on)","x":0.08,"y":0.025,"l":0.020,"h":0.030},
{"s":"ΔK9(on)","x":0.09,"y":0.014,"l":0.011,"h":0.017},
{"s":"ΔK9(on)","x":0.10,"y":0.007,"l":0.005,"h":0.009},
{"s":"ΔK9(on)","x":0.11,"y":0.003,"l":0.002,"h":0.004},
{"s":"ΔK9(on)","x":0.12,"y":0.001,"l":0.0005,"h":0.0015},
{"s":"ΔK9(on)","x":0.13,"y":0,"l":0,"h":0},
{"s":"ΔK9(off)","x":0.01,"y":0,"l":0,"h":0},
{"s":"ΔK9(off)","x":0.015,"y":0.010,"l":0.005,"h":0.015},
{"s":"ΔK9(off)","x":0.02,"y":0.022,"l":0.014,"h":0.030},
{"s":"ΔK9(off)","x":0.025,"y":0.024,"l":0.016,"h":0.033},
{"s":"ΔK9(off)","x":0.03,"y":0.023,"l":0.015,"h":0.032},
{"s":"ΔK9(off)","x":0.035,"y":0.025,"l":0.017,"h":0.034},
{"s":"ΔK9(off)","x":0.04,"y":0.026,"l":0.019,"h":0.034},
{"s":"ΔK9(off)","x":0.05,"y":0.026,"l":0.019,"h":0.033},
{"s":"ΔK9(off)","x":0.06,"y":0.025,"l":0.018,"h":0.032},
{"s":"ΔK9(off)","x":0.065,"y":0.018,"l":0.012,"h":0.024},
{"s":"ΔK9(off)","x":0.07,"y":0.012,"l":0.007,"h":0.017},
{"s":"ΔK9(off)","x":0.08,"y":0.009,"l":0.005,"h":0.013},
{"s":"ΔK9(off)","x":0.09,"y":0.009,"l":0.005,"h":0.013},
{"s":"ΔK9(off)","x":0.10,"y":0.010,"l":0.006,"h":0.015},
{"s":"ΔK9(off)","x":0.11,"y":0.010,"l":0.005,"h":0.016},
{"s":"ΔK9(off)","x":0.12,"y":0.010,"l":0.005,"h":0.015},
{"s":"ΔK9(off)","x":0.13,"y":0.007,"l":0.004,"h":0.010},
{"s":"ΔK9(off)","x":0.14,"y":0.004,"l":0.002,"h":0.006},
{"s":"ΔK9(off)","x":0.15,"y":0.002,"l":0.001,"h":0.003},
{"s":"ΔK9(off)","x":0.17,"y":0.001,"l":0.0005,"h":0.0015},
{"s":"ΔK9(off)","x":0.20,"y":0,"l":0,"h":0}
],
"h": [
{"s":"WT(on)","x":14.9,"y":0,"l":0,"h":0},
{"s":"WT(on)","x":15.4,"y":0.0005,"l":0.0002,"h":0.0008},
{"s":"WT(on)","x":15.6,"y":0.003,"l":0.002,"h":0.004},
{"s":"WT(on)","x":15.8,"y":0.012,"l":0.009,"h":0.015},
{"s":"WT(on)","x":15.9,"y":0.025,"l":0.020,"h":0.030},
{"s":"WT(on)","x":16.0,"y":0.042,"l":0.035,"h":0.049},
{"s":"WT(on)","x":16.1,"y":0.057,"l":0.049,"h":0.065},
{"s":"WT(on)","x":16.2,"y":0.058,"l":0.050,"h":0.066},
{"s":"WT(on)","x":16.25,"y":0.061,"l":0.053,"h":0.069},
{"s":"WT(on)","x":16.3,"y":0.055,"l":0.047,"h":0.063},
{"s":"WT(on)","x":16.4,"y":0.046,"l":0.039,"h":0.053},
{"s":"WT(on)","x":16.5,"y":0.035,"l":0.029,"h":0.041},
{"s":"WT(on)","x":16.6,"y":0.025,"l":0.019,"h":0.031},
{"s":"WT(on)","x":16.7,"y":0.015,"l":0.009,"h":0.021},
{"s":"WT(on)","x":16.8,"y":0.009,"l":0.004,"h":0.014},
{"s":"WT(on)","x":16.9,"y":0.005,"l":0.001,"h":0.009},
{"s":"WT(on)","x":17.0,"y":0.003,"l":0,"h":0.006},
{"s":"WT(on)","x":17.2,"y":0.001,"l":0,"h":0.002},
{"s":"WT(on)","x":17.4,"y":0,"l":0,"h":0},
{"s":"WT(off)","x":14.9,"y":0,"l":0,"h":0},
{"s":"WT(off)","x":15.4,"y":0.001,"l":0.0005,"h":0.0015},
{"s":"WT(off)","x":15.6,"y":0.004,"l":0.003,"h":0.005},
{"s":"WT(off)","x":15.8,"y":0.012,"l":0.010,"h":0.014},
{"s":"WT(off)","x":15.9,"y":0.020,"l":0.017,"h":0.023},
{"s":"WT(off)","x":16.0,"y":0.034,"l":0.030,"h":0.038},
{"s":"WT(off)","x":16.1,"y":0.046,"l":0.041,"h":0.051},
{"s":"WT(off)","x":16.2,"y":0.048,"l":0.043,"h":0.053},
{"s":"WT(off)","x":16.3,"y":0.048,"l":0.043,"h":0.053},
{"s":"WT(off)","x":16.4,"y":0.043,"l":0.038,"h":0.048},
{"s":"WT(off)","x":16.5,"y":0.036,"l":0.032,"h":0.040},
{"s":"WT(off)","x":16.6,"y":0.030,"l":0.026,"h":0.034},
{"s":"WT(off)","x":16.7,"y":0.022,"l":0.019,"h":0.025},
{"s":"WT(off)","x":16.8,"y":0.015,"l":0.013,"h":0.017},
{"s":"WT(off)","x":16.9,"y":0.010,"l":0.008,"h":0.012},
{"s":"WT(off)","x":17.0,"y":0.007,"l":0.005,"h":0.009},
{"s":"WT(off)","x":17.1,"y":0.005,"l":0.004,"h":0.006},
{"s":"WT(off)","x":17.2,"y":0.004,"l":0.003,"h":0.005},
{"s":"WT(off)","x":17.4,"y":0.002,"l":0.001,"h":0.003},
{"s":"WT(off)","x":17.6,"y":0.0005,"l":0.0002,"h":0.0008},
{"s":"WT(off)","x":17.8,"y":0,"l":0,"h":0},
{"s":"ΔK9(on)","x":15.0,"y":0,"l":0,"h":0},
{"s":"ΔK9(on)","x":15.5,"y":0.002,"l":0.001,"h":0.003},
{"s":"ΔK9(on)","x":15.7,"y":0.006,"l":0.004,"h":0.008},
{"s":"ΔK9(on)","x":15.9,"y":0.014,"l":0.011,"h":0.017},
{"s":"ΔK9(on)","x":16.0,"y":0.021,"l":0.017,"h":0.025},
{"s":"ΔK9(on)","x":16.1,"y":0.028,"l":0.023,"h":0.033},
{"s":"ΔK9(on)","x":16.2,"y":0.034,"l":0.029,"h":0.039},
{"s":"ΔK9(on)","x":16.3,"y":0.040,"l":0.034,"h":0.046},
{"s":"ΔK9(on)","x":16.4,"y":0.045,"l":0.039,"h":0.051},
{"s":"ΔK9(on)","x":16.5,"y":0.042,"l":0.036,"h":0.048},
{"s":"ΔK9(on)","x":16.6,"y":0.038,"l":0.033,"h":0.043},
{"s":"ΔK9(on)","x":16.7,"y":0.030,"l":0.026,"h":0.034},
{"s":"ΔK9(on)","x":16.8,"y":0.022,"l":0.019,"h":0.025},
{"s":"ΔK9(on)","x":16.9,"y":0.014,"l":0.012,"h":0.016},
{"s":"ΔK9(on)","x":17.0,"y":0.009,"l":0.007,"h":0.011},
{"s":"ΔK9(on)","x":17.2,"y":0.005,"l":0.004,"h":0.006},
{"s":"ΔK9(on)","x":17.4,"y":0.003,"l":0.002,"h":0.004},
{"s":"ΔK9(on)","x":17.7,"y":0.001,"l":0.0005,"h":0.0015},
{"s":"ΔK9(on)","x":18.0,"y":0.0005,"l":0.0002,"h":0.0008},
{"s":"ΔK9(on)","x":18.4,"y":0,"l":0,"h":0},
{"s":"ΔK9(off)","x":15.0,"y":0,"l":0,"h":0},
{"s":"ΔK9(off)","x":15.5,"y":0.001,"l":0.0005,"h":0.0015},
{"s":"ΔK9(off)","x":15.8,"y":0.004,"l":0.003,"h":0.005},
{"s":"ΔK9(off)","x":16.0,"y":0.012,"l":0.010,"h":0.014},
{"s":"ΔK9(off)","x":16.1,"y":0.020,"l":0.017,"h":0.023},
{"s":"ΔK9(off)","x":16.2,"y":0.028,"l":0.024,"h":0.032},
{"s":"ΔK9(off)","x":16.3,"y":0.036,"l":0.031,"h":0.041},
{"s":"ΔK9(off)","x":16.4,"y":0.042,"l":0.037,"h":0.047},
{"s":"ΔK9(off)","x":16.5,"y":0.044,"l":0.039,"h":0.049},
{"s":"ΔK9(off)","x":16.6,"y":0.040,"l":0.035,"h":0.045},
{"s":"ΔK9(off)","x":16.7,"y":0.034,"l":0.030,"h":0.038},
{"s":"ΔK9(off)","x":16.8,"y":0.028,"l":0.024,"h":0.032},
{"s":"ΔK9(off)","x":16.9,"y":0.024,"l":0.020,"h":0.028},
{"s":"ΔK9(off)","x":17.0,"y":0.018,"l":0.015,"h":0.021},
{"s":"ΔK9(off)","x":17.1,"y":0.014,"l":0.011,"h":0.017},
{"s":"ΔK9(off)","x":17.2,"y":0.010,"l":0.008,"h":0.012},
{"s":"ΔK9(off)","x":17.3,"y":0.007,"l":0.005,"h":0.009},
{"s":"ΔK9(off)","x":17.5,"y":0.003,"l":0.002,"h":0.004},
{"s":"ΔK9(off)","x":17.8,"y":0.001,"l":0.0005,"h":0.0015},
{"s":"ΔK9(off)","x":18.2,"y":0.0003,"l":0.0001,"h":0.0005},
{"s":"ΔK9(off)","x":18.6,"y":0,"l":0,"h":0}
]
},
"concat": [
{"title": "Distribution of Total SASA of S1", "width": 154, "height": 180, "data": {"name": "a"},
 "encoding": {"x": {"field": "x", "type": "quantitative", "title": "Total SASA of interest (nm²)", "scale": {"domain": [0.2, 0.9], "nice": false, "zero": false}, "axis": {"values": [0.2,0.3,0.4,0.5,0.6,0.7,0.8,0.9], "format": "~g", "labelOverlap": false}}},
 "layer": [
  {"mark": {"type": "area", "opacity": 0.18}, "encoding": {
    "y": {"field": "l", "type": "quantitative", "title": "Probability", "stack": null, "scale": {"domain": [0, 0.07], "nice": false}, "axis": {"values": [0,0.01,0.02,0.03,0.04,0.05,0.06,0.07], "format": "~g", "labelOverlap": false}},
    "y2": {"field": "h"},
    "color": {"field": "s", "type": "nominal", "scale": {"domain": ["WT(on)","WT(off)","ΔK9(on)","ΔK9(off)"], "range": ["#ff0000","#0000ff","#ff00ff","#00e000"]}}}},
  {"mark": {"type": "line", "strokeWidth": 1.4}, "encoding": {
    "y": {"field": "y", "type": "quantitative", "title": "Probability", "axis": {"values": [0,0.01,0.02,0.03,0.04,0.05,0.06,0.07], "format": "~g", "labelOverlap": false}},
    "color": {"field": "s", "type": "nominal", "scale": {"domain": ["WT(on)","WT(off)","ΔK9(on)","ΔK9(off)"], "range": ["#ff0000","#0000ff","#ff00ff","#00e000"]}, "legend": {"title": null, "strokeColor": "#555", "fillColor": "#ffffff", "encode": {"legend": {"update": {"stroke": {"value": "#555555"}, "strokeWidth": {"value": 1}, "fill": {"value": "#ffffff"}}}}}}}},
  {"data": {"values": [{"x": 0.209, "y": 0.0645, "t": "(a)"}]}, "mark": {"type": "text", "fontSize": 16, "fontWeight": "bold", "align": "left", "baseline": "middle", "color": "#000"}, "encoding": {
    "y": {"field": "y", "type": "quantitative", "title": "Probability", "axis": {"values": [0,0.01,0.02,0.03,0.04,0.05,0.06,0.07], "format": "~g", "labelOverlap": false}},
    "text": {"field": "t"}}}
 ]},
{"title": "Distribution of Total SASA of S2", "width": 154, "height": 180, "data": {"name": "b"},
 "encoding": {"x": {"field": "x", "type": "quantitative", "title": "Total SASA of interest (nm²)", "scale": {"domain": [0.1, 0.8], "nice": false, "zero": false}, "axis": {"values": [0.1,0.2,0.3,0.4,0.5,0.6,0.7,0.8], "format": "~g", "labelOverlap": false}}},
 "layer": [
  {"mark": {"type": "area", "opacity": 0.18}, "encoding": {
    "y": {"field": "l", "type": "quantitative", "title": "Probability", "stack": null, "scale": {"domain": [0, 0.07], "nice": false}, "axis": {"values": [0,0.01,0.02,0.03,0.04,0.05,0.06,0.07], "format": "~g", "labelOverlap": false}},
    "y2": {"field": "h"},
    "color": {"field": "s", "type": "nominal", "scale": {"domain": ["WT(on)","WT(off)","ΔK9(on)","ΔK9(off)"], "range": ["#ff0000","#0000ff","#ff00ff","#00e000"]}}}},
  {"mark": {"type": "line", "strokeWidth": 1.4}, "encoding": {
    "y": {"field": "y", "type": "quantitative", "title": "Probability", "axis": {"values": [0,0.01,0.02,0.03,0.04,0.05,0.06,0.07], "format": "~g", "labelOverlap": false}},
    "color": {"field": "s", "type": "nominal", "scale": {"domain": ["WT(on)","WT(off)","ΔK9(on)","ΔK9(off)"], "range": ["#ff0000","#0000ff","#ff00ff","#00e000"]}, "legend": {"title": null, "strokeColor": "#555", "fillColor": "#ffffff", "encode": {"legend": {"update": {"stroke": {"value": "#555555"}, "strokeWidth": {"value": 1}, "fill": {"value": "#ffffff"}}}}}}}},
  {"data": {"values": [{"x": 0.127, "y": 0.0645, "t": "(b)"}]}, "mark": {"type": "text", "fontSize": 16, "fontWeight": "bold", "align": "left", "baseline": "middle", "color": "#000"}, "encoding": {
    "y": {"field": "y", "type": "quantitative", "title": "Probability", "axis": {"values": [0,0.01,0.02,0.03,0.04,0.05,0.06,0.07], "format": "~g", "labelOverlap": false}},
    "text": {"field": "t"}}}
 ]},
{"title": "Distribution of Total SASA of S3", "width": 154, "height": 180, "data": {"name": "c"},
 "encoding": {"x": {"field": "x", "type": "quantitative", "title": "Total SASA of interest (nm²)", "scale": {"domain": [0.1, 0.7], "nice": false, "zero": false}, "axis": {"values": [0.1,0.2,0.3,0.4,0.5,0.6,0.7], "format": "~g", "labelOverlap": false}}},
 "layer": [
  {"mark": {"type": "area", "opacity": 0.18}, "encoding": {
    "y": {"field": "l", "type": "quantitative", "title": "Probability", "stack": null, "scale": {"domain": [0, 0.07], "nice": false}, "axis": {"values": [0,0.01,0.02,0.03,0.04,0.05,0.06,0.07], "format": "~g", "labelOverlap": false}},
    "y2": {"field": "h"},
    "color": {"field": "s", "type": "nominal", "scale": {"domain": ["WT(on)","WT(off)","ΔK9(on)","ΔK9(off)"], "range": ["#ff0000","#0000ff","#ff00ff","#00e000"]}}}},
  {"mark": {"type": "line", "strokeWidth": 1.4}, "encoding": {
    "y": {"field": "y", "type": "quantitative", "title": "Probability", "axis": {"values": [0,0.01,0.02,0.03,0.04,0.05,0.06,0.07], "format": "~g", "labelOverlap": false}},
    "color": {"field": "s", "type": "nominal", "scale": {"domain": ["WT(on)","WT(off)","ΔK9(on)","ΔK9(off)"], "range": ["#ff0000","#0000ff","#ff00ff","#00e000"]}, "legend": {"title": null, "strokeColor": "#555", "fillColor": "#ffffff", "encode": {"legend": {"update": {"stroke": {"value": "#555555"}, "strokeWidth": {"value": 1}, "fill": {"value": "#ffffff"}}}}}}}},
  {"data": {"values": [{"x": 0.108, "y": 0.0645, "t": "(c)"}]}, "mark": {"type": "text", "fontSize": 16, "fontWeight": "bold", "align": "left", "baseline": "middle", "color": "#000"}, "encoding": {
    "y": {"field": "y", "type": "quantitative", "title": "Probability", "axis": {"values": [0,0.01,0.02,0.03,0.04,0.05,0.06,0.07], "format": "~g", "labelOverlap": false}},
    "text": {"field": "t"}}}
 ]},
{"title": "Distribution of Total SASA of S4", "width": 154, "height": 180, "data": {"name": "d"},
 "encoding": {"x": {"field": "x", "type": "quantitative", "title": "Total SASA of interest (nm²)", "scale": {"domain": [0.1, 0.7], "nice": false, "zero": false}, "axis": {"values": [0.1,0.2,0.3,0.4,0.5,0.6,0.7], "format": "~g", "labelOverlap": false}}},
 "layer": [
  {"mark": {"type": "area", "opacity": 0.18}, "encoding": {
    "y": {"field": "l", "type": "quantitative", "title": "Probability", "stack": null, "scale": {"domain": [0, 0.07], "nice": false}, "axis": {"values": [0,0.01,0.02,0.03,0.04,0.05,0.06,0.07], "format": "~g", "labelOverlap": false}},
    "y2": {"field": "h"},
    "color": {"field": "s", "type": "nominal", "scale": {"domain": ["WT(on)","WT(off)","ΔK9(on)","ΔK9(off)"], "range": ["#ff0000","#0000ff","#ff00ff","#00e000"]}}}},
  {"mark": {"type": "line", "strokeWidth": 1.4}, "encoding": {
    "y": {"field": "y", "type": "quantitative", "title": "Probability", "axis": {"values": [0,0.01,0.02,0.03,0.04,0.05,0.06,0.07], "format": "~g", "labelOverlap": false}},
    "color": {"field": "s", "type": "nominal", "scale": {"domain": ["WT(on)","WT(off)","ΔK9(on)","ΔK9(off)"], "range": ["#ff0000","#0000ff","#ff00ff","#00e000"]}, "legend": {"title": null, "strokeColor": "#555", "fillColor": "#ffffff", "encode": {"legend": {"update": {"stroke": {"value": "#555555"}, "strokeWidth": {"value": 1}, "fill": {"value": "#ffffff"}}}}}}}},
  {"data": {"values": [{"x": 0.143, "y": 0.0645, "t": "(d)"}]}, "mark": {"type": "text", "fontSize": 16, "fontWeight": "bold", "align": "left", "baseline": "middle", "color": "#000"}, "encoding": {
    "y": {"field": "y", "type": "quantitative", "title": "Probability", "axis": {"values": [0,0.01,0.02,0.03,0.04,0.05,0.06,0.07], "format": "~g", "labelOverlap": false}},
    "text": {"field": "t"}}}
 ]},
{"title": "Distribution of Total SASA of S5", "width": 154, "height": 180, "data": {"name": "e"},
 "encoding": {"x": {"field": "x", "type": "quantitative", "title": "Total SASA of interest (nm²)", "scale": {"domain": [0.05, 0.35], "nice": false, "zero": false}, "axis": {"values": [0.05,0.1,0.15,0.2,0.25,0.3,0.35], "format": "~g", "labelOverlap": false}}},
 "layer": [
  {"mark": {"type": "area", "opacity": 0.18}, "encoding": {
    "y": {"field": "l", "type": "quantitative", "title": "Probability", "stack": null, "scale": {"domain": [0, 0.07], "nice": false}, "axis": {"values": [0,0.01,0.02,0.03,0.04,0.05,0.06,0.07], "format": "~g", "labelOverlap": false}},
    "y2": {"field": "h"},
    "color": {"field": "s", "type": "nominal", "scale": {"domain": ["WT(on)","WT(off)","ΔK9(on)","ΔK9(off)"], "range": ["#ff0000","#0000ff","#ff00ff","#00e000"]}}}},
  {"mark": {"type": "line", "strokeWidth": 1.4}, "encoding": {
    "y": {"field": "y", "type": "quantitative", "title": "Probability", "axis": {"values": [0,0.01,0.02,0.03,0.04,0.05,0.06,0.07], "format": "~g", "labelOverlap": false}},
    "color": {"field": "s", "type": "nominal", "scale": {"domain": ["WT(on)","WT(off)","ΔK9(on)","ΔK9(off)"], "range": ["#ff0000","#0000ff","#ff00ff","#00e000"]}, "legend": {"title": null, "strokeColor": "#555", "fillColor": "#ffffff", "encode": {"legend": {"update": {"stroke": {"value": "#555555"}, "strokeWidth": {"value": 1}, "fill": {"value": "#ffffff"}}}}}}}},
  {"data": {"values": [{"x": 0.0616, "y": 0.0645, "t": "(e)"}]}, "mark": {"type": "text", "fontSize": 16, "fontWeight": "bold", "align": "left", "baseline": "middle", "color": "#000"}, "encoding": {
    "y": {"field": "y", "type": "quantitative", "title": "Probability", "axis": {"values": [0,0.01,0.02,0.03,0.04,0.05,0.06,0.07], "format": "~g", "labelOverlap": false}},
    "text": {"field": "t"}}}
 ]},
{"title": "Distribution of Total SASA of S6", "width": 154, "height": 180, "data": {"name": "f"},
 "encoding": {"x": {"field": "x", "type": "quantitative", "title": "Total SASA of interest (nm²)", "scale": {"domain": [0.1, 0.4], "nice": false, "zero": false}, "axis": {"values": [0.1,0.15,0.2,0.25,0.3,0.35,0.4], "format": "~g", "labelOverlap": false}}},
 "layer": [
  {"mark": {"type": "area", "opacity": 0.18}, "encoding": {
    "y": {"field": "l", "type": "quantitative", "title": "Probability", "stack": null, "scale": {"domain": [0, 0.07], "nice": false}, "axis": {"values": [0,0.01,0.02,0.03,0.04,0.05,0.06,0.07], "format": "~g", "labelOverlap": false}},
    "y2": {"field": "h"},
    "color": {"field": "s", "type": "nominal", "scale": {"domain": ["WT(on)","WT(off)","ΔK9(on)","ΔK9(off)"], "range": ["#ff0000","#0000ff","#ff00ff","#00e000"]}}}},
  {"mark": {"type": "line", "strokeWidth": 1.4}, "encoding": {
    "y": {"field": "y", "type": "quantitative", "title": "Probability", "axis": {"values": [0,0.01,0.02,0.03,0.04,0.05,0.06,0.07], "format": "~g", "labelOverlap": false}},
    "color": {"field": "s", "type": "nominal", "scale": {"domain": ["WT(on)","WT(off)","ΔK9(on)","ΔK9(off)"], "range": ["#ff0000","#0000ff","#ff00ff","#00e000"]}, "legend": {"title": null, "strokeColor": "#555", "fillColor": "#ffffff", "encode": {"legend": {"update": {"stroke": {"value": "#555555"}, "strokeWidth": {"value": 1}, "fill": {"value": "#ffffff"}}}}}}}},
  {"data": {"values": [{"x": 0.119, "y": 0.0645, "t": "(f)"}]}, "mark": {"type": "text", "fontSize": 16, "fontWeight": "bold", "align": "left", "baseline": "middle", "color": "#000"}, "encoding": {
    "y": {"field": "y", "type": "quantitative", "title": "Probability", "axis": {"values": [0,0.01,0.02,0.03,0.04,0.05,0.06,0.07], "format": "~g", "labelOverlap": false}},
    "text": {"field": "t"}}}
 ]},
{"title": "Distribution of Total SASA of catalytic triad", "width": 154, "height": 180, "data": {"name": "g"},
 "encoding": {"x": {"field": "x", "type": "quantitative", "title": "Total SASA of interest (nm²)", "scale": {"domain": [0, 0.25], "nice": false, "zero": false}, "axis": {"values": [0,0.05,0.1,0.15,0.2,0.25], "format": "~g", "labelOverlap": false}}},
 "layer": [
  {"mark": {"type": "area", "opacity": 0.18}, "encoding": {
    "y": {"field": "l", "type": "quantitative", "title": "Probability", "stack": null, "scale": {"domain": [0, 0.07], "nice": false}, "axis": {"values": [0,0.01,0.02,0.03,0.04,0.05,0.06,0.07], "format": "~g", "labelOverlap": false}},
    "y2": {"field": "h"},
    "color": {"field": "s", "type": "nominal", "scale": {"domain": ["WT(on)","WT(off)","ΔK9(on)","ΔK9(off)"], "range": ["#ff0000","#0000ff","#ff00ff","#00e000"]}}}},
  {"mark": {"type": "line", "strokeWidth": 1.4}, "encoding": {
    "y": {"field": "y", "type": "quantitative", "title": "Probability", "axis": {"values": [0,0.01,0.02,0.03,0.04,0.05,0.06,0.07], "format": "~g", "labelOverlap": false}},
    "color": {"field": "s", "type": "nominal", "scale": {"domain": ["WT(on)","WT(off)","ΔK9(on)","ΔK9(off)"], "range": ["#ff0000","#0000ff","#ff00ff","#00e000"]}, "legend": {"title": null, "strokeColor": "#555", "fillColor": "#ffffff", "encode": {"legend": {"update": {"stroke": {"value": "#555555"}, "strokeWidth": {"value": 1}, "fill": {"value": "#ffffff"}}}}}}}},
  {"data": {"values": [{"x": 0.005, "y": 0.0645, "t": "(g)"}]}, "mark": {"type": "text", "fontSize": 16, "fontWeight": "bold", "align": "left", "baseline": "middle", "color": "#000"}, "encoding": {
    "y": {"field": "y", "type": "quantitative", "title": "Probability", "axis": {"values": [0,0.01,0.02,0.03,0.04,0.05,0.06,0.07], "format": "~g", "labelOverlap": false}},
    "text": {"field": "t"}}}
 ]},
{"title": "Distribution of Total SASA", "width": 154, "height": 180, "data": {"name": "h"},
 "encoding": {"x": {"field": "x", "type": "quantitative", "title": "Total SASA of interest (nm²)", "scale": {"domain": [14.5, 19], "nice": false, "zero": false}, "axis": {"values": [14.5,15,15.5,16,16.5,17,17.5,18,18.5,19], "format": "~g", "labelOverlap": false}}},
 "layer": [
  {"mark": {"type": "area", "opacity": 0.18}, "encoding": {
    "y": {"field": "l", "type": "quantitative", "title": "Probability", "stack": null, "scale": {"domain": [0, 0.07], "nice": false}, "axis": {"values": [0,0.01,0.02,0.03,0.04,0.05,0.06,0.07], "format": "~g", "labelOverlap": false}},
    "y2": {"field": "h"},
    "color": {"field": "s", "type": "nominal", "scale": {"domain": ["WT(on)","WT(off)","ΔK9(on)","ΔK9(off)"], "range": ["#ff0000","#0000ff","#ff00ff","#00e000"]}}}},
  {"mark": {"type": "line", "strokeWidth": 1.4}, "encoding": {
    "y": {"field": "y", "type": "quantitative", "title": "Probability", "axis": {"values": [0,0.01,0.02,0.03,0.04,0.05,0.06,0.07], "format": "~g", "labelOverlap": false}},
    "color": {"field": "s", "type": "nominal", "scale": {"domain": ["WT(on)","WT(off)","ΔK9(on)","ΔK9(off)"], "range": ["#ff0000","#0000ff","#ff00ff","#00e000"]}, "legend": {"title": null, "strokeColor": "#555", "fillColor": "#ffffff", "encode": {"legend": {"update": {"stroke": {"value": "#555555"}, "strokeWidth": {"value": 1}, "fill": {"value": "#ffffff"}}}}}}}},
  {"data": {"values": [{"x": 14.82, "y": 0.0645, "t": "(h)"}]}, "mark": {"type": "text", "fontSize": 16, "fontWeight": "bold", "align": "left", "baseline": "middle", "color": "#000"}, "encoding": {
    "y": {"field": "y", "type": "quantitative", "title": "Probability", "axis": {"values": [0,0.01,0.02,0.03,0.04,0.05,0.06,0.07], "format": "~g", "labelOverlap": false}},
    "text": {"field": "t"}}}
 ]}
]
}
